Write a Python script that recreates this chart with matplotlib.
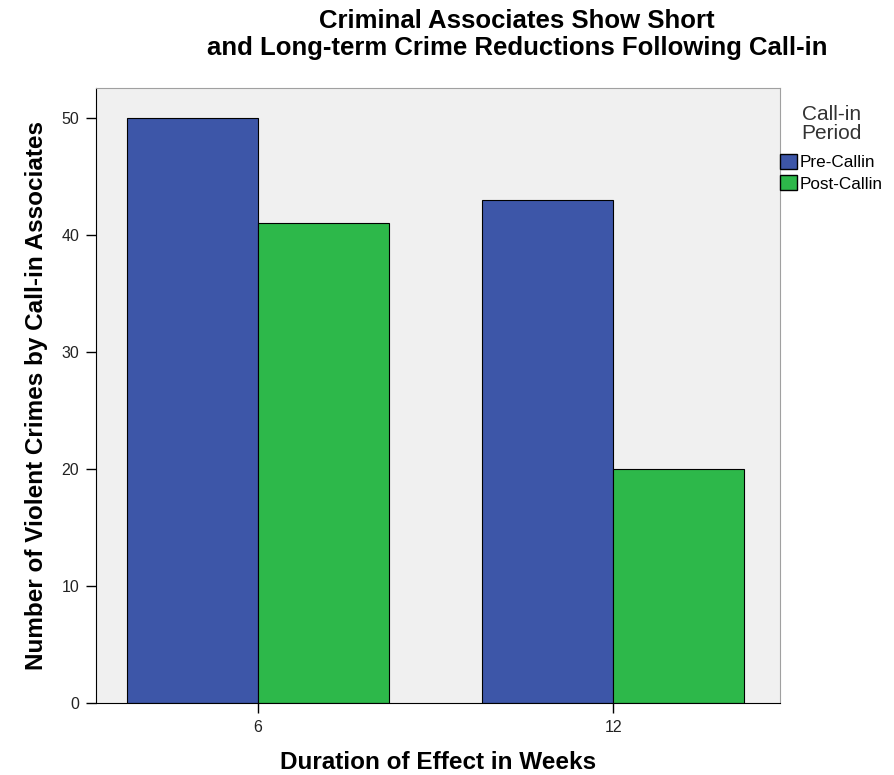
import matplotlib
matplotlib.use('Agg')
import matplotlib.pyplot as plt
import numpy as np
from matplotlib.patches import Patch

plt.rcParams['font.family'] = ['Liberation Sans', 'DejaVu Sans']

weeks = ['6', '12']
pre_callin = [50, 43]
post_callin = [41, 20]
series_names = ['Pre-Callin', 'Post-Callin']
colors = ['#3d56a8', '#2db84a']

fig = plt.figure(figsize=(8.95, 7.75), dpi=100)
ax = fig.add_axes([0.1073, 0.0929, 0.7642, 0.7936])
ax.set_facecolor('#f0f0f0')

x = np.arange(len(weeks))
width = 0.369
ax.bar(x - width / 2, pre_callin, width, color=colors[0], edgecolor='black', linewidth=0.8)
ax.bar(x + width / 2, post_callin, width, color=colors[1], edgecolor='black', linewidth=0.8)

ax.set_xlim(-0.456, 1.470)
ax.set_ylim(0, 52.56)
ax.set_xticks(x)
ax.set_xticklabels(weeks)
ax.set_yticks([0, 10, 20, 30, 40, 50])
ax.tick_params(axis='both', labelsize=11.5, length=7, width=1, direction='out',
               labelcolor='#222222', pad=5)

for side in ['top', 'right']:
    ax.spines[side].set_color('#a0a0a0')
for side in ['left', 'bottom']:
    ax.spines[side].set_color('black')

ax.set_xlabel('Duration of Effect in Weeks', fontsize=17.5, fontweight='bold', labelpad=12)
ax.set_ylabel('Number of Violent Crimes by Call-in Associates', fontsize=17.5,
              fontweight='bold', labelpad=10)
fig.suptitle('Criminal Associates Show Short\nand Long-term Crime Reductions Following Call-in',
             fontsize=18.5, fontweight='bold', x=0.578, y=0.988, linespacing=1.12)

handles = [Patch(facecolor=c, edgecolor='black', label=n) for c, n in zip(colors, series_names)]
leg = fig.legend(handles=handles, title='Call-in\nPeriod', loc='upper left',
                 bbox_to_anchor=(0.872, 0.8645), frameon=False, fontsize=12.3,
                 title_fontsize=15, handlelength=0.95, handleheight=0.95,
                 handletextpad=0.2, labelspacing=0.3, borderaxespad=0,
                 borderpad=0)
leg.get_title().set_multialignment('center')
leg.get_title().set_color('#333333')
leg.get_title().set_linespacing(1.0)
leg._legend_box.sep = 8

fig.savefig('out.png', dpi=100)
